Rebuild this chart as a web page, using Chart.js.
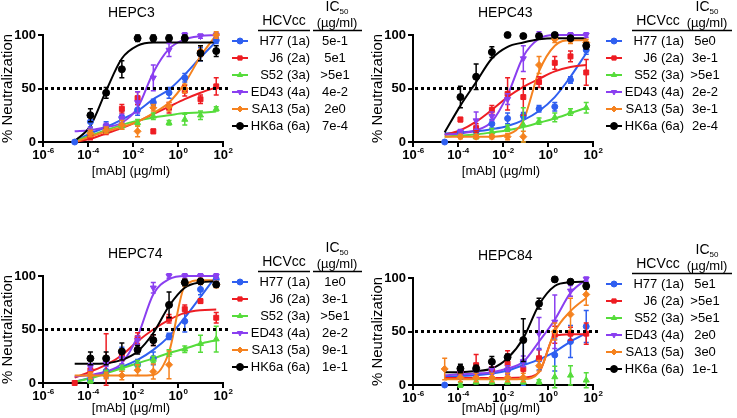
<!DOCTYPE html>
<html>
<head>
<meta charset="utf-8">
<script src="https://cdn.jsdelivr.net/npm/chart.js@4.4.1/dist/chart.umd.min.js"></script>
<style>
  body { margin: 0; background: #fff; width: 737px; height: 418px; overflow: hidden; position: relative; }
  canvas { position: absolute; }
</style>
</head>
<body>
<canvas id="p1" width="368" height="190" style="left:0px;top:0px"></canvas>
<canvas id="p2" width="368" height="190" style="left:370px;top:0px"></canvas>
<canvas id="p3" width="368" height="190" style="left:0px;top:241px"></canvas>
<canvas id="p4" width="368" height="190" style="left:370px;top:243px"></canvas>
<script>
const FONT = '"Liberation Sans", Arial, Helvetica, sans-serif';

// 5-fold dilutions from 50 ug/ml
const conc = [2.56e-5, 1.28e-4, 6.4e-4, 3.2e-3, 0.016, 0.08, 0.4, 2, 10, 50];
const strains = ['H77 (1a)', 'J6 (2a)', 'S52 (3a)', 'ED43 (4a)', 'SA13 (5a)', 'HK6a (6a)'];
const colors = ['#2f5ff0', '#ee1d23', '#56dc3b', '#8a3ff0', '#f5821f', '#000000'];
const shapes = ['circle', 'rect', 'triangle', 'triangle', 'rectRot', 'circle'];
const rotations = [0, 0, 0, 180, 0, 0];
const radii = [3, 3.5, 3.5, 3.5, 3.5, 3.5];
const xTicks = [1e-6, 1e-4, 1e-2, 1, 100];
const xExp = ['-6', '-4', '-2', '0', '2'];
const yTicks = [0, 50, 100];

// HEPC3
const hepc3Mean = [
  [0, 19, 15, 23, 30, 37, 46, 60, 82, 95],
  [null, 5, 10, 31, 41, 10, 32, 48, 40, 52],
  [null, 10, 12, 15, 18, 24, 18, 21, 25, 31],
  [null, 10.5, 14.5, 22, 37, 60, 86, 100, 99, 100],
  [null, 8, 11, 16, 10, 32, 33, 50, 85, 100],
  [null, 25, 46, 68, 97, 97, 97, 97, 83, 85]
];
const hepc3Err = [
  [0, 5, 4, 6, 5, 3, 5, 4, 6, 3],
  [0, 3, 3, 4, 6, 2, 5, 5, 4, 8],
  [0, 3, 3, 3, 3, 3, 2, 5, 4, 2],
  [0, 3, 3, 4, 10, 12, 6, 2, 2, 2],
  [0, 3, 3, 4, 5, 3, 4, 4, 5, 3],
  [0, 6, 5, 8, 3, 3, 3, 3, 7, 5]
];
const hepc3Fit = [
  [1, 8, 14, 21, 29, 40, 49, 63, 79, 94],
  [0, 3, 8, 13, 19, 26, 33, 40, 46, 51],
  [1, 6, 11, 16, 20, 23, 25, 27, 27.5, 28.5],
  [10, 11, 14, 18, 32, 65, 87, 96, 99, 100],
  [0, 5, 10, 14, 19, 27, 37, 55, 80, 100],
  [1, 15, 48, 78, 90, 93, 93, 93, 93, 93]
];
const hepc3IC50 = ['5e-1', '5e1', '>5e1', '4e-2', '2e0', '7e-4'];

// HEPC43
const hepc43Mean = [
  [0, 9, 10, 17, 22, 24.5, 31, 33, 58, 86],
  [null, 21, 13, 30, 45, 42, 56, 74, 80, 65],
  [null, 6.5, 5, 9.6, 13, 16, 19.5, 23, 28, 32],
  [null, 9.6, 20, 24, 40, 78, 100, 100, 100, 100],
  [null, 5, 5, 5, 5, 5, 72, 96, 95, 93],
  [null, 42, 61, 84, 100, 99, 99, 100, 97, 90]
];
const hepc43Err = [
  [0, 2, 3, 4, 5, 3, 3, 4, 3, 4],
  [0, 2, 4, 4, 15, 17, 5, 6, 5, 12],
  [0, 2, 2, 3, 3, 16, 3, 4, 3, 5],
  [0, 2, 8, 4, 5, 12, 3, 2, 2, 2],
  [0, 2, 2, 2, 3, 5, 8, 3, 3, 3],
  [0, 10, 12, 5, 2, 2, 2, 2, 2, 3]
];
const hepc43Fit = [
  [8, 9, 10, 12, 15, 20.5, 29, 42, 61, 83],
  [6.5, 11, 19, 30, 42, 51.5, 59, 66, 70, 72],
  [5, 6, 7, 9, 11, 14, 18, 22, 27, 32],
  [7, 8, 11, 19, 44, 80, 96.5, 100, 100, 100],
  [5, 5, 5, 5, 7, 20, 66, 90, 95, 95],
  [9, 34, 56, 78, 89, 93, 96, 97, 97, 97]
];
const hepc43IC50 = ['5e0', '3e-1', '>5e1', '2e-2', '3e-1', '2e-4'];

// HEPC74
const hepc74Mean = [
  [null, 3, 11, 29.5, 17, 23, 43.6, 57.7, 87.5, 97],
  [0, 12, 22, 26, 42, 40, 60, 69, 76.5, 61],
  [null, 2, 9, 14, 18, 22, 28, 31.6, 36.7, 41],
  [null, 15, 18.5, 23, 40, 89, 100, 100, 100, 100],
  [null, 7, 7, 7, 12, 10.7, 17, 94, 95, 92],
  [null, 23, 23, 29.5, 31, 40, 73, 94, 95, 92]
];
const hepc74Err = [
  [0, 2, 6, 4, 5, 6, 3, 10, 5, 3],
  [0, 4, 24, 5, 5, 5, 4, 4, 2, 5],
  [0, 2, 3, 3, 3, 3, 3, 3, 8, 12],
  [0, 3, 3, 5, 4, 5, 2, 2, 2, 2],
  [0, 3, 3, 4, 5, 7, 13, 3, 3, 3],
  [0, 6, 6, 8, 4, 5, 12, 3, 2, 2]
];
const hepc74Fit = [
  [1, 5, 10, 15, 21.6, 31, 43.6, 61, 80.5, 100],
  [5, 10.7, 17, 26, 39, 50, 59, 65.5, 68, 68.6],
  [1, 4.4, 9, 13.8, 18.5, 23, 28, 32, 36.7, 40],
  [6, 7.5, 10.7, 18.5, 43.6, 83, 97, 100, 100, 100],
  [7, 7, 7, 7, 7, 7.5, 29, 90.6, 96, 96],
  [18, 18, 18.5, 21.6, 29.5, 46.7, 72, 89, 94, 95]
];
const hepc74IC50 = ['1e0', '3e-1', '>5e1', '2e-2', '9e-1', '1e-1'];

// HEPC84
const hepc84Mean = [
  [0, 10.7, 14, 14, 14, 21.7, 24, 28, 40.6, 54.7],
  [null, 12, 18.5, 15, 20, 15, 25, 47, 48, 48],
  [null, 0, 3, 3, 3, 3, 3, 7.5, 9, 4.4],
  [null, 12, 13, 15, 14, 22, 48, 59, 88, 99],
  [15, 7, 7, 7, 7, 7, 18, 50, 66, 84.6],
  [null, 15.4, 15.4, 21.7, 26, 42, 76, 98.7, 96.5, 92.5]
];
const hepc84Err = [
  [0, 5, 6, 8, 6, 22, 10, 15, 15, 15],
  [0, 4, 10, 8, 12, 8, 8, 8, 6, 10],
  [0, 2, 2, 2, 2, 2, 2, 10, 9, 7],
  [0, 3, 4, 5, 4, 5, 15, 25, 5, 2],
  [10, 4, 4, 4, 4, 4, 5, 8, 15, 10],
  [0, 4, 3, 5, 3, 20, 5, 2, 2, 3]
];
const hepc84Fit = [
  [7.5, 8.5, 9, 10.7, 13.5, 18.5, 24, 31, 40.6, 48.4],
  [6.6, 6.6, 6.6, 6.6, 6.6, 7, 12, 46, 47.5, 47.5],
  null,
  [9, 10, 10.7, 12, 15.4, 21.7, 40.6, 61, 86, 98.7],
  [5.3, 5.3, 5.3, 5.3, 5.3, 5.5, 12, 50, 69, 81.4],
  [12, 12, 13, 15.4, 25, 43.7, 75, 92.5, 96, 96.5]
];
const hepc84IC50 = ['5e1', '>5e1', '>5e1', '2e0', '3e0', '1e-1'];

// error bars, 50% line, texts and the little table legend
const decor = {
  id: 'decor',
  beforeDatasetDraw(chart, args) {
    const ds = chart.data.datasets[args.index];
    if (!ds.errs) return;
    const ctx = chart.ctx, xs = chart.scales.x, ys = chart.scales.y;
    ctx.save();
    ctx.strokeStyle = ds.pointBorderColor;
    ctx.lineWidth = 1.5;
    ds.data.forEach((p, i) => {
      const e = ds.errs[i];
      if (p.y === null || !e) return;
      const x = xs.getPixelForValue(p.x);
      const y1 = ys.getPixelForValue(p.y + e);
      const y2 = ys.getPixelForValue(p.y - e);
      ctx.beginPath();
      ctx.moveTo(x, y1); ctx.lineTo(x, y2);
      ctx.moveTo(x - 2.5, y1); ctx.lineTo(x + 2.5, y1);
      ctx.moveTo(x - 2.5, y2); ctx.lineTo(x + 2.5, y2);
      ctx.stroke();
    });
    ctx.restore();
  },
  afterDatasetsDraw(chart) {
    const ctx = chart.ctx, a = chart.chartArea;
    const y = chart.scales.y.getPixelForValue(50);
    ctx.save();
    ctx.strokeStyle = '#000';
    ctx.lineWidth = 3;
    ctx.setLineDash([3, 3]);
    ctx.beginPath();
    ctx.moveTo(a.left + 2, y);
    ctx.lineTo(a.right + 5, y);
    ctx.stroke();
    ctx.restore();
  },
  afterDraw(chart) {
    const ctx = chart.ctx, a = chart.chartArea, xs = chart.scales.x;
    const o = chart.options.plugins.decor;
    ctx.save();
    ctx.fillStyle = '#000';

    // title
    ctx.font = '14px ' + FONT;
    ctx.textAlign = 'left';
    ctx.textBaseline = 'alphabetic';
    ctx.fillText(o.title, 108, 17);

    // x tick labels 10^n
    xTicks.forEach((v, i) => {
      const px = xs.getPixelForValue(v);
      ctx.font = 'bold 13px ' + FONT;
      const bw = ctx.measureText('10').width;
      ctx.font = 'bold 8px ' + FONT;
      const ew = ctx.measureText(xExp[i]).width;
      const x0 = px - (bw + ew) / 2;
      const by = a.bottom + 17;
      ctx.font = 'bold 13px ' + FONT;
      ctx.fillText('10', x0, by);
      ctx.font = 'bold 8px ' + FONT;
      ctx.fillText(xExp[i], x0 + bw + 0.5, by - 6);
    });

    // axis titles
    ctx.font = '13px ' + FONT;
    ctx.textAlign = 'center';
    ctx.textBaseline = 'middle';
    ctx.fillText('[mAb] (\u00b5g/ml)', (a.left + a.right) / 2 - 2, a.bottom + o.xTitleDy);
    ctx.save();
    ctx.translate(8, (a.top + a.bottom) / 2);
    ctx.rotate(-Math.PI / 2);
    ctx.font = '15px ' + FONT;
    ctx.fillText('% Neutralization', 0, 0);
    ctx.restore();

    // legend table
    const sh = o.shift;
    ctx.textBaseline = 'alphabetic';
    ctx.font = '14px ' + FONT;
    ctx.textAlign = 'center';
    ctx.fillText('HCVcc', 284 + sh, 25);
    const icw = ctx.measureText('IC').width;
    ctx.font = '8px ' + FONT;
    const subw = ctx.measureText('50').width;
    const icx = 337 - (icw + subw) / 2;
    ctx.textAlign = 'left';
    ctx.font = '14px ' + FONT;
    ctx.fillText('IC', icx, 11);
    ctx.font = '8px ' + FONT;
    ctx.fillText('50', icx + icw, 14);
    ctx.textAlign = 'center';
    ctx.font = '13px ' + FONT;
    ctx.fillText('(\u00b5g/ml)', 337, 27);
    ctx.strokeStyle = '#000';
    ctx.lineWidth = 1.5;
    ctx.beginPath();
    ctx.moveTo(258 + sh, 30.5); ctx.lineTo(310 + sh, 30.5);
    ctx.moveTo(313, 30.5); ctx.lineTo(362, 30.5);
    ctx.stroke();

    ctx.textBaseline = 'middle';
    strains.forEach((name, s) => {
      const y = 41 + 17 * s;
      ctx.strokeStyle = colors[s];
      ctx.fillStyle = colors[s];
      ctx.lineWidth = 2;
      ctx.beginPath();
      ctx.moveTo(232 + sh, y); ctx.lineTo(248 + sh, y);
      ctx.stroke();
      ctx.lineWidth = 1;
      Chart.helpers.drawPoint(ctx, {
        pointStyle: shapes[s], rotation: rotations[s],
        radius: s === 5 ? 3.5 : 3, borderWidth: 1
      }, 240 + sh, y);
      ctx.fillStyle = '#000';
      ctx.font = '13px ' + FONT;
      ctx.textAlign = 'right';
      ctx.fillText(name, 310 + sh, y);
      ctx.textAlign = 'center';
      ctx.fillText(o.ic50[s], 335, y);
    });
    ctx.restore();
  }
};

function makePanel(id, title, mean, err, fit, ic50, shift, xTitleDy) {
  const datasets = [];
  for (let s = 0; s < 6; s++) {
    if (fit[s]) {
      datasets.push({
        type: 'line',
        data: conc.map((c, i) => ({ x: c, y: fit[s][i] })),
        borderColor: colors[s],
        borderWidth: 2,
        pointRadius: 0,
        cubicInterpolationMode: 'monotone',
        fill: false,
        clip: 4,
        order: 20 - s
      });
    }
    datasets.push({
      type: 'scatter',
      data: conc.map((c, i) => ({ x: c, y: mean[s][i] })),
      errs: err[s],
      pointBackgroundColor: colors[s],
      pointBorderColor: colors[s],
      pointStyle: shapes[s],
      pointRotation: rotations[s],
      pointRadius: radii[s],
      pointBorderWidth: 1,
      showLine: false,
      clip: false,
      order: 5 - s
    });
  }

  new Chart(document.getElementById(id), {
    type: 'scatter',
    data: { datasets },
    plugins: [decor],
    options: {
      responsive: false,
      animation: false,
      events: [],
      layout: { padding: { top: 35, right: 145, left: 0, bottom: 0 } },
      scales: {
        x: {
          type: 'logarithmic',
          min: 1e-6,
          max: 100,
          afterBuildTicks: sc => { sc.ticks = xTicks.map(v => ({ value: v })); },
          afterFit: sc => { sc.height = 48; },
          ticks: { callback: () => '' },
          grid: { drawOnChartArea: false, tickLength: 5, color: '#000', lineWidth: 2 },
          border: { color: '#000', width: 2 }
        },
        y: {
          min: 0,
          max: 100,
          afterBuildTicks: sc => { sc.ticks = yTicks.map(v => ({ value: v })); },
          afterFit: sc => { sc.width = 43; },
          ticks: { color: '#000', padding: 2, font: { family: FONT, size: 13, weight: 'bold' } },
          grid: { drawOnChartArea: false, tickLength: 5, color: '#000', lineWidth: 2 },
          border: { color: '#000', width: 2 }
        }
      },
      plugins: {
        legend: { display: false },
        tooltip: { enabled: false },
        decor: { title, ic50, shift, xTitleDy }
      }
    }
  });
}

makePanel('p1', 'HEPC3', hepc3Mean, hepc3Err, hepc3Fit, hepc3IC50, 0, 29);
makePanel('p2', 'HEPC43', hepc43Mean, hepc43Err, hepc43Fit, hepc43IC50, 4, 29);
makePanel('p3', 'HEPC74', hepc74Mean, hepc74Err, hepc74Fit, hepc74IC50, 0, 25);
makePanel('p4', 'HEPC84', hepc84Mean, hepc84Err, hepc84Fit, hepc84IC50, 4, 23);
</script>
</body>
</html>
